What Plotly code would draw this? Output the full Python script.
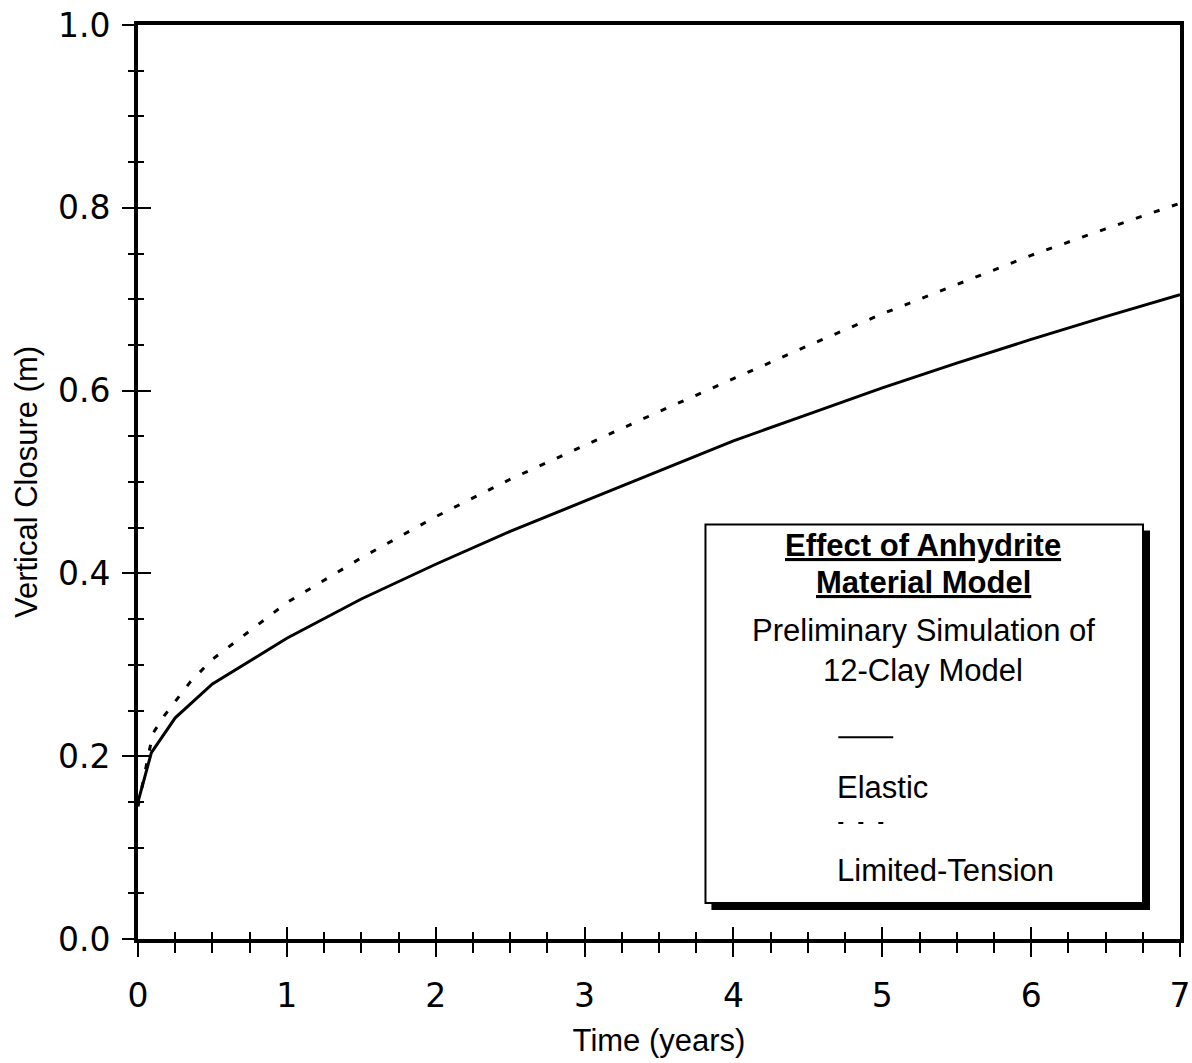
import plotly.graph_objects as go

# Data
elastic_t = [0, 0.09, 0.25, 0.5, 1.0, 1.5, 2.0, 2.5, 3.0, 3.5, 4.0, 4.5, 5.0, 5.5, 6.0, 6.5, 7.0]
elastic_v = [0.15, 0.204, 0.242, 0.279, 0.329, 0.372, 0.410, 0.446, 0.479, 0.512, 0.545,
             0.574, 0.603, 0.630, 0.656, 0.681, 0.705]

limited_t = [0, 0.04, 0.1, 0.18, 0.35, 0.5, 0.75, 1.0, 1.5, 2.0, 2.5, 3.0, 3.5, 4.0, 4.5,
             5.0, 5.5, 6.0, 6.5, 7.0]
limited_v = [0.145, 0.178, 0.225, 0.245, 0.281, 0.306, 0.337, 0.368, 0.417, 0.462, 0.503,
             0.540, 0.577, 0.613, 0.649, 0.684, 0.716, 0.748, 0.777, 0.805]

x_ticks = [0, 1, 2, 3, 4, 5, 6, 7]
y_ticks = [0.0, 0.2, 0.4, 0.6, 0.8, 1.0]
y_tick_labels = ["0.0", "0.2", "0.4", "0.6", "0.8", "1.0"]

FONT = "Liberation Sans, Arial, Helvetica, sans-serif"
TICKFONT = "DejaVu Sans, Liberation Sans, sans-serif"

fig = go.Figure()
fig.add_trace(go.Scatter(x=elastic_t, y=elastic_v, mode="lines",
                         line=dict(color="black", width=3), name="Elastic",
                         showlegend=False, hoverinfo="skip"))
fig.add_trace(go.Scatter(x=limited_t, y=limited_v, mode="lines",
                         line=dict(color="black", width=3, dash="6px,13px"),
                         name="Limited-Tension", showlegend=False, hoverinfo="skip"))
# invisible trace to register overlay axes (for inward-crossing ticks)
fig.add_trace(go.Scatter(x=[None], y=[None], xaxis="x2", yaxis="y2",
                         showlegend=False, hoverinfo="skip"))

axis_common = dict(showgrid=False, zeroline=False, automargin=False)

fig.update_layout(
    width=1192, height=1063,
    margin=dict(l=138, r=12, t=25, b=124),
    paper_bgcolor="white", plot_bgcolor="white",
    font=dict(family=FONT, color="black"),
    xaxis=dict(range=[0, 7], tickvals=x_ticks, ticks="outside", ticklen=14, tickwidth=2,
               tickcolor="black", showline=True, linewidth=4, linecolor="black", mirror=True,
               tickfont=dict(size=33, family=TICKFONT), ticklabelstandoff=10,
               ticklabeloverflow="allow",
               minor=dict(dtick=0.25, ticks="outside", ticklen=10, tickwidth=2, tickcolor="black"),
               title=dict(text="Time (years)", font=dict(size=31, family=FONT), standoff=17),
               **axis_common),
    yaxis=dict(range=[0, 1.0], tickvals=y_ticks, ticktext=y_tick_labels, ticks="outside",
               ticklen=12, tickwidth=2, tickcolor="black", showline=True, linewidth=4,
               linecolor="black", mirror=True,
               tickfont=dict(size=33, family=TICKFONT), ticklabelstandoff=5,
               ticklabeloverflow="allow",
               minor=dict(dtick=0.05, ticks="outside", ticklen=6, tickwidth=2, tickcolor="black"),
               title=dict(text="Vertical Closure (m)", font=dict(size=31, family=FONT), standoff=12),
               **axis_common),
    xaxis2=dict(range=[0, 7], overlaying="x", anchor="y", side="bottom", tickvals=x_ticks,
                ticks="inside", ticklen=12, tickwidth=2, tickcolor="black", showticklabels=False,
                showline=False, minor=dict(dtick=0.25, ticks="inside", ticklen=7, tickwidth=2,
                                           tickcolor="black"), **axis_common),
    yaxis2=dict(range=[0, 1.0], overlaying="y", anchor="x", side="left", tickvals=y_ticks,
                ticks="inside", ticklen=13, tickwidth=2, tickcolor="black", showticklabels=False,
                showline=False, minor=dict(dtick=0.05, ticks="inside", ticklen=6, tickwidth=2,
                                           tickcolor="black"), **axis_common),
)

# Legend box with drop shadow (paper coordinates)
fig.add_shape(type="rect", xref="paper", yref="paper", x0=0.5503, x1=0.9712, y0=0.0317, y1=0.447,
              fillcolor="black", line=dict(color="black", width=0), layer="above")
fig.add_shape(type="rect", xref="paper", yref="paper", x0=0.5446, x1=0.9645, y0=0.0393, y1=0.4536,
              fillcolor="white", line=dict(color="black", width=2), layer="above")

cx = 0.7536
texts = [
    ("<b><u>Effect of Anhydrite</u></b>", 0.4306),
    ("<b><u>Material Model</u></b>", 0.3900),
    ("Preliminary Simulation of", 0.3375),
    ("12-Clay Model", 0.2940),
]
for t, yy in texts:
    fig.add_annotation(text=t, xref="paper", yref="paper", x=cx, y=yy, xanchor="center",
                       yanchor="middle", showarrow=False, font=dict(size=31, family=FONT))

lx0, lx1 = 0.6721, 0.7248
fig.add_shape(type="line", xref="paper", yref="paper", x0=lx0, x1=lx1, y0=0.2208, y1=0.2208,
              line=dict(color="black", width=2), layer="above")
fig.add_annotation(text="Elastic", xref="paper", yref="paper", x=lx0 - 0.003, y=0.1661,
                   xanchor="left", yanchor="middle", showarrow=False,
                   font=dict(size=31, family=FONT))
fig.add_shape(type="line", xref="paper", yref="paper", x0=lx0, x1=0.7191, y0=0.1268, y1=0.1268,
              line=dict(color="black", width=2, dash="5px,15px"), layer="above")
fig.add_annotation(text="Limited-Tension", xref="paper", yref="paper", x=lx0 - 0.003, y=0.0754,
                   xanchor="left", yanchor="middle", showarrow=False,
                   font=dict(size=31, family=FONT))

fig.write_html(
    "out.html",
    config={"displayModeBar": False},
    post_script=("document.body.style.margin='0';"
                 "document.body.style.overflow='hidden';"
                 "document.documentElement.style.overflow='hidden';"),
)
